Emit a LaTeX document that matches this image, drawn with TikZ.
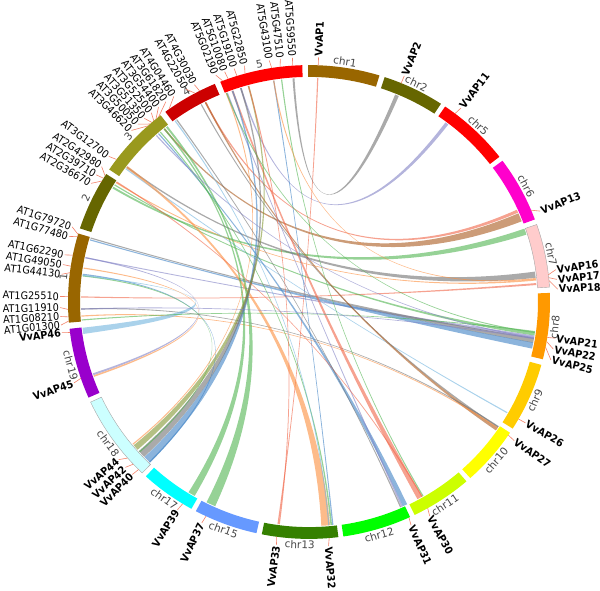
\documentclass[tikz,border=0pt]{standalone}
\usepackage{fontspec}
\setmainfont{DejaVu Sans}
\newfontfamily\genefont[FakeStretch=0.92]{DejaVu Sans}

% ideogram colours
\definecolor{vchr1}{RGB}{153,102,0}
\definecolor{vchr2}{RGB}{102,102,0}
\definecolor{vchr3}{RGB}{153,153,30}
\definecolor{vchr4}{RGB}{204,0,0}
\definecolor{vchr5}{RGB}{255,0,0}
\definecolor{vchr6}{RGB}{255,0,204}
\definecolor{vchr7}{RGB}{255,204,204}
\definecolor{vchr8}{RGB}{255,153,0}
\definecolor{vchr9}{RGB}{255,204,0}
\definecolor{vchr10}{RGB}{255,255,0}
\definecolor{vchr11}{RGB}{204,255,0}
\definecolor{vchr12}{RGB}{0,255,0}
\definecolor{vchr13}{RGB}{53,128,0}
\definecolor{vchr15}{RGB}{102,153,255}
\definecolor{vchr17}{RGB}{0,255,255}
\definecolor{vchr18}{RGB}{204,255,255}
\definecolor{vchr19}{RGB}{153,0,204}
% link colours
\definecolor{lksalmon}{RGB}{240,100,70}
\definecolor{lkorange}{RGB}{252,141,60}
\definecolor{lkgreen}{RGB}{80,180,80}
\definecolor{lkblue}{RGB}{63,130,197}
\definecolor{lklblue}{RGB}{113,180,222}
\definecolor{lkgrey}{RGB}{113,113,113}
\definecolor{lklav}{RGB}{130,130,197}
\definecolor{lkbrown}{RGB}{170,90,30}
\definecolor{lkolive}{RGB}{130,150,50}

\begin{document}
\begin{tikzpicture}[x=1pt,y=0.983pt,
    lk/.style={fill opacity=0.6},
    tick/.style={draw=lksalmon!80,line width=0.6pt},
    chrlab/.style={font=\fontsize{10.5}{12}\selectfont,text=black!72,inner sep=0pt},
    atlab/.style={font=\genefont\fontsize{10.5}{12}\selectfont,inner sep=1pt},
    vvlab/.style={font=\genefont\bfseries\fontsize{10.5}{12}\selectfont,inner sep=1pt}]
    \useasboundingbox (0pt,0pt) rectangle (600pt,590pt);
    \begin{scope}[shift={(309pt,288pt)}]
        \coordinate (c) at (0,0);

        % links (ribbons)
        \foreach \a/\wa/\b/\wb/\col in {
            87.8/0.3/-97.8/0.3/lksalmon, 67.3/1.0/93.9/0.5/lkgrey,
            52.8/0.9/107.4/0.4/lklav, 23.9/0.8/117.0/0.4/lksalmon,
            22.2/2.2/129.4/0.4/lkbrown, 18.3/1.6/149.3/0.5/lkgreen,
            7.0/1.6/143.0/0.4/lkgrey, 5.7/0.4/147.8/0.3/lkorange,
            4.6/0.5/178.7/0.3/lksalmon, -8.2/0.8/148.5/0.3/lkgreen,
            -9.0/0.8/168.6/0.3/lklav, -9.9/1.2/163.4/0.3/lkgrey,
            -11.2/1.6/163.9/0.3/lkblue, -29.6/0.3/143.5/0.3/lklblue,
            -34.0/0.4/118.2/0.3/lkgrey, -34.6/0.7/117.0/0.4/lkbrown,
            -34.2/0.3/183.6/0.3/lkorange, -33.8/0.3/181.8/0.3/lkgrey,
            -60.0/0.3/96.9/0.3/lkgreen, -60.9/1.4/109.6/0.5/lksalmon,
            -65.1/1.2/131.3/0.3/lkblue, -65.9/0.4/111.0/0.3/lklav,
            -85.8/2.2/143.0/0.6/lkorange, -84.4/0.4/130.7/0.3/lkgreen,
            -84.0/0.3/98.9/0.3/lkblue, -115.5/2.4/128.6/0.5/lkgreen,
            -121.0/1.8/129.4/0.4/lkgreen, -135.2/2.0/109.6/0.4/lkblue,
            -137.3/2.0/107.4/0.4/lkgrey, -139.5/1.5/105.4/0.4/lkolive,
            -134.4/0.3/172.9/0.3/lkblue, -138.0/0.3/173.3/0.3/lkgreen,
            -161.2/0.5/168.6/0.3/lklav, -160.7/0.4/171.3/0.3/lkorange,
            -172.6/1.6/173.2/0.3/lklblue, 184.6/0.3/-7.6/0.3/lkgreen,
            181.8/0.3/-9.4/0.3/lklav, 105.4/0.3/-97.5/0.3/lksalmon,
            -140.6/0.3/111.3/0.3/lkorange, 98.9/0.3/6.0/0.3/lkorange,
            111.2/0.3/-7.8/0.3/lkgreen, 147.6/0.3/-60.3/0.3/lksalmon,
            125.5/0.3/-66.3/0.3/lkgrey, 132.0/0.3/-9.2/0.3/lklav,
            126.0/0.3/-85.0/0.3/lklblue}{
            \pgfmathsetmacro\ap{\a+\wa/2}
            \pgfmathsetmacro\am{\a-\wa/2}
            \pgfmathsetmacro\bp{\b+\wb/2}
            \pgfmathsetmacro\bm{\b-\wb/2}
            \fill[\col,lk] (\ap:228) .. controls (\ap:76) and (\bm:76) .. (\bm:228)
                arc[start angle=\bm,end angle=\bp,radius=228]
                .. controls (\bp:76) and (\am:76) .. (\am:228)
                arc[start angle=\am,end angle=\ap,radius=228] -- cycle;
        }

        % ideograms
        \foreach \s/\e/\col/\lab/\nm in {
            90.2/73.0/vchr1/chr1/v1, 71.7/56.8/vchr2/chr2/v2,
            55.6/37.8/vchr5/chr5/v5, 36.6/20.4/vchr6/chr6/v6,
            19.1/3.6/vchr7/chr7/v7, 2.2/-14.0/vchr8/chr8/v8,
            -15.4/-32.3/vchr9/chr9/v9, -33.5/-48.0/vchr10/chr10/v10,
            -49.2/-64.0/vchr11/chr11/v11, -65.2/-81.8/vchr12/chr12/v12,
            -83.0/-101.3/vchr13/chr13/v13, -102.6/-118.0/vchr15/chr15/v15,
            -119.2/-132.6/vchr17/chr17/v17, -133.8/-155.0/vchr18/chr18/v18,
            -156.2/-173.5/vchr19/chr19/v19,
            185.0/163.2/vchr1/1/at1, 161.9/147.3/vchr2/2/at2,
            146.0/128.0/vchr3/3/at3, 126.6/113.0/vchr4/4/at4,
            111.6/91.6/vchr5/5/at5}{
            \fill[\col] (\s:229) arc[start angle=\s,end angle=\e,radius=229]
                -- (\e:241) arc[start angle=\e,end angle=\s,radius=241] -- cycle;
            \pgfmathsetmacro\m{(\s+\e)/2}
            \pgfmathsetmacro\rot{sin(\m)>0 ? \m-90 : \m+90}
            \node[chrlab,rotate=\rot] (\nm) at (\m:247) {\lab};
        }
        % pale ideograms get an outline
        \foreach \s/\e in {19.1/3.6, -133.8/-155.0}
            \draw[black!35,line width=0.4pt] (\s:229) arc[start angle=\s,end angle=\e,radius=229]
                -- (\e:241) arc[start angle=\e,end angle=\s,radius=241] -- cycle;

        % gene labels with ticks
        \foreach \n/\t/\l/\sty in {
            VvAP1/87.8/87.8/vvlab, VvAP2/67.5/67.5/vvlab,
            VvAP11/52.7/52.4/vvlab, VvAP13/22.8/21.8/vvlab,
            VvAP16/6.6/7.6/vvlab, VvAP17/5.9/5.3/vvlab,
            VvAP18/5.2/3.0/vvlab, VvAP21/-8.6/-8.5/vvlab,
            VvAP22/-9.6/-11.1/vvlab, VvAP25/-11.0/-13.7/vvlab,
            VvAP26/-29.6/-29.6/vvlab, VvAP27/-34.2/-34.5/vvlab,
            VvAP30/-60.5/-61.0/vvlab, VvAP31/-65.5/-65.8/vvlab,
            VvAP32/-85.2/-85.5/vvlab, VvAP33/-97.8/-97.5/vvlab,
            VvAP37/-115.3/-115.5/vvlab, VvAP39/-121.6/-121.9/vvlab,
            VvAP40/-135.0/-135.2/vvlab, VvAP42/-136.8/-137.5/vvlab,
            VvAP44/-138.8/-139.9/vvlab, VvAP45/-161.2/-160.7/vvlab,
            VvAP46/-172.6/-172.8/vvlab,
            AT5G59550/93.9/93.8/atlab, AT5G47510/96.9/96.6/atlab,
            AT5G43100/98.9/99.2/atlab, AT5G22850/105.4/105.0/atlab,
            AT5G19100/107.4/107.5/atlab, AT5G10080/109.6/109.8/atlab,
            AT5G02190/111.0/112.0/atlab, AT4G30030/117.0/117.4/atlab,
            AT4G22050/118.2/119.6/atlab, AT4G04460/125.5/122.9/atlab,
            AT3G61820/128.6/125.1/atlab, AT3G54400/129.4/127.2/atlab,
            AT3G52500/130.1/129.3/atlab, AT3G51350/130.7/131.4/atlab,
            AT3G50050/131.3/133.4/atlab, AT3G46620/132.0/135.5/atlab,
            AT3G12700/143.0/143.5/atlab, AT2G42980/147.8/146.4/atlab,
            AT2G39710/148.5/148.7/atlab, AT2G36670/149.3/151.0/atlab,
            AT1G79720/163.4/162.1/atlab, AT1G77480/163.9/164.5/atlab,
            AT1G62290/168.6/168.9/atlab, AT1G49050/171.3/171.2/atlab,
            AT1G44130/172.9/173.5/atlab, AT1G25510/178.7/178.7/atlab,
            AT1G11910/181.8/181.3/atlab, AT1G08210/183.6/183.4/atlab,
            AT1G01300/184.6/185.4/atlab}{
            \coordinate (t-\n) at (\t:241);
            \pgfmathtruncatemacro\side{cos(\l)>0 ? 1 : 0}
            \ifnum\side=1
                \node[\sty,anchor=west,rotate=\l] (\n) at (\l:249) {\n};
                \draw[tick] (t-\n) -- (\n.west);
            \else
                \pgfmathsetmacro\rr{\l-180}
                \node[\sty,anchor=east,rotate=\rr] (\n) at (\l:249) {\n};
                \draw[tick] (t-\n) -- (\n.east);
            \fi
        }
    \end{scope}
\end{tikzpicture}
\end{document}
